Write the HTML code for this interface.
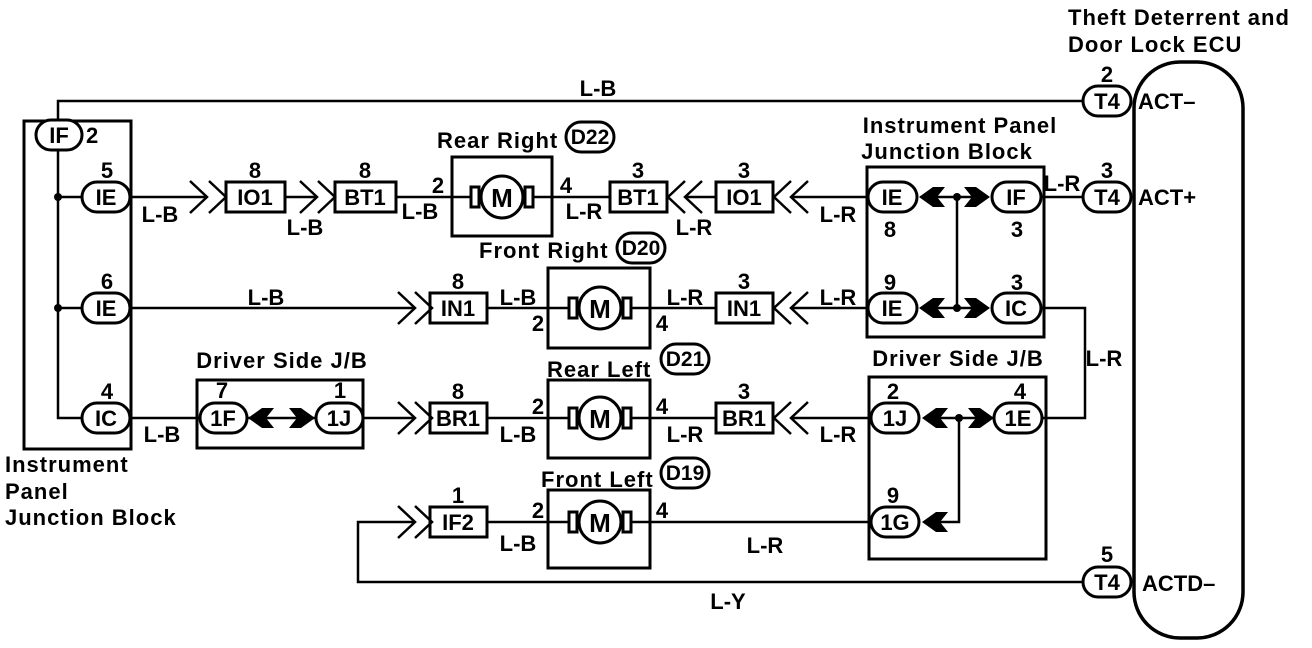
<!DOCTYPE html>
<html><head><meta charset="utf-8"><style>
html,body{margin:0;padding:0;background:#fff;}
svg{display:block;}
text{font-family:"Liberation Sans",sans-serif;font-weight:bold;font-size:22px;fill:#000;}
.c{text-anchor:middle;}
.t{letter-spacing:1px;}
.p{font-size:21px;}
</style></head><body>
<svg width="1312" height="648" viewBox="0 0 1312 648" xmlns="http://www.w3.org/2000/svg">
<g fill="none" stroke="#000" stroke-width="2.5">
<rect x="24" y="121" width="107" height="328" stroke-width="3"/>
<polyline points="58,135 58,101 1083,101"/>
<polyline points="58,150 58,418 82,418"/>
<line x1="58" y1="197" x2="82" y2="197"/>
<line x1="58" y1="308" x2="82" y2="308"/>
<line x1="130" y1="197" x2="205" y2="197"/>
<polyline points="190,181 207,197 190,213"/><polyline points="209,181 226,197 209,213"/>
<line x1="285" y1="197" x2="315" y2="197"/>
<polyline points="300,181 317,197 300,213"/><polyline points="318,181 335,197 318,213"/>
<line x1="396" y1="197" x2="610" y2="197"/>
<polyline points="685,181 668,197 685,213"/><polyline points="702,181 685,197 702,213"/>
<line x1="685" y1="197" x2="716" y2="197"/>
<polyline points="791,181 774,197 791,213"/><polyline points="808,181 791,197 808,213"/>
<line x1="791" y1="197" x2="868" y2="197"/>
<line x1="130" y1="308" x2="415" y2="308"/>
<polyline points="398,292 415,308 398,324"/><polyline points="415,292 432,308 415,324"/>
<line x1="487" y1="308" x2="716" y2="308"/>
<polyline points="791,292 774,308 791,324"/><polyline points="808,292 791,308 808,324"/>
<line x1="791" y1="308" x2="868" y2="308"/>
<line x1="130" y1="418" x2="200" y2="418"/>
<line x1="363" y1="418" x2="415" y2="418"/>
<polyline points="398,402 415,418 398,434"/><polyline points="415,402 432,418 415,434"/>
<line x1="487" y1="418" x2="716" y2="418"/>
<polyline points="791,402 774,418 791,434"/><polyline points="808,402 791,418 808,434"/>
<line x1="791" y1="418" x2="868" y2="418"/>
<polyline points="1083,582 358,582 358,522 415,522"/>
<polyline points="398,506 415,522 398,538"/><polyline points="415,506 432,522 415,538"/>
<line x1="487" y1="522" x2="868" y2="522"/>
<line x1="1041" y1="197" x2="1083" y2="197"/>
<polyline points="1041,308 1085,308 1085,418 1041,418"/>
<g stroke-width="3">
<rect x="226" y="182" width="59" height="30"/>
<rect x="335" y="182" width="61" height="30"/>
<rect x="610" y="182" width="57" height="30"/>
<rect x="716" y="182" width="57" height="30"/>
<rect x="430" y="293" width="57" height="30"/>
<rect x="716" y="293" width="57" height="30"/>
<rect x="430" y="403" width="57" height="30"/>
<rect x="716" y="403" width="57" height="30"/>
<rect x="430" y="507" width="57" height="30"/>
<rect x="452" y="157" width="100" height="79"/>
<rect x="548" y="268" width="102" height="80"/>
<rect x="548" y="380" width="102" height="78"/>
<rect x="548" y="490" width="102" height="78"/>
<rect x="197" y="380" width="166" height="68"/>
<rect x="867" y="167" width="177" height="170"/>
<rect x="869" y="377" width="177" height="182"/>
<rect x="1134" y="62" width="109" height="576" rx="46" ry="46" stroke-width="3.5"/>
</g>
<g stroke-width="3">
<circle cx="502" cy="197" r="21" fill="#fff"/><rect x="471" y="187" width="8" height="20" fill="#fff"/><rect x="525" y="187" width="8" height="20" fill="#fff"/>
<circle cx="600" cy="308" r="21" fill="#fff"/><rect x="569" y="298" width="8" height="20" fill="#fff"/><rect x="623" y="298" width="8" height="20" fill="#fff"/>
<circle cx="600" cy="418" r="21" fill="#fff"/><rect x="569" y="408" width="8" height="20" fill="#fff"/><rect x="623" y="408" width="8" height="20" fill="#fff"/>
<circle cx="600" cy="522" r="21" fill="#fff"/><rect x="569" y="512" width="8" height="20" fill="#fff"/><rect x="623" y="512" width="8" height="20" fill="#fff"/>
</g>
<line x1="937" y1="197" x2="975" y2="197"/><line x1="937" y1="308" x2="975" y2="308"/>
<line x1="957" y1="197" x2="957" y2="308"/>
<line x1="220" y1="418" x2="340" y2="418"/>
<line x1="940" y1="418" x2="1000" y2="418"/>
<polyline points="959,418 959,522 935,522"/>
<g stroke-width="3" fill="#fff">
<rect x="36" y="120" width="46" height="30" rx="15"/>
<rect x="82" y="182" width="48" height="30" rx="15"/>
<rect x="82" y="293" width="48" height="30" rx="15"/>
<rect x="82" y="403" width="48" height="30" rx="15"/>
<rect x="200" y="403" width="47" height="30" rx="15"/>
<rect x="316" y="403" width="47" height="30" rx="15"/>
<rect x="868" y="182" width="49" height="30" rx="15"/>
<rect x="992" y="182" width="49" height="30" rx="15"/>
<rect x="868" y="293" width="49" height="30" rx="15"/>
<rect x="992" y="293" width="49" height="30" rx="15"/>
<rect x="871" y="403" width="48" height="30" rx="15"/>
<rect x="994" y="403" width="48" height="30" rx="15"/>
<rect x="871" y="507" width="48" height="30" rx="15"/>
<rect x="1083" y="86" width="48" height="30" rx="15"/>
<rect x="1083" y="182" width="48" height="30" rx="15"/>
<rect x="1083" y="567" width="48" height="30" rx="15"/>
<rect x="566" y="122" width="48" height="30" rx="15"/>
<rect x="617" y="233" width="48" height="30" rx="15"/>
<rect x="661" y="344" width="48" height="30" rx="15"/>
<rect x="661" y="458" width="48" height="30" rx="15"/>
</g>
</g>
<g fill="#000">
<polygon points="919,197 933,187 945,187 937,197 945,207 933,207"/>
<polygon points="990,197 976,187 964,187 972,197 964,207 976,207"/>
<polygon points="919,308 933,298 945,298 937,308 945,318 933,318"/>
<polygon points="990,308 976,298 964,298 972,308 964,318 976,318"/>
<polygon points="922,418 936,408 948,408 940,418 948,428 936,428"/>
<polygon points="994,418 980,408 968,408 976,418 968,428 980,428"/>
<polygon points="922,522 936,512 948,512 940,522 948,532 936,532"/>
<polygon points="248,418 262,408 274,408 266,418 274,428 262,428"/>
<polygon points="315,418 301,408 289,408 297,418 289,428 301,428"/>
<circle cx="58" cy="197" r="4"/><circle cx="58" cy="308" r="4"/>
<circle cx="957" cy="197" r="4"/><circle cx="957" cy="308" r="4"/><circle cx="959" cy="418" r="4"/>
</g>
<text class="c" x="502" y="207" style="font-size:26px">M</text>
<text class="c" x="600" y="318" style="font-size:26px">M</text>
<text class="c" x="600" y="428" style="font-size:26px">M</text>
<text class="c" x="600" y="532" style="font-size:26px">M</text>
<text class="c" x="59" y="143">IF</text><text x="86" y="143">2</text>
<text class="c" x="106" y="205">IE</text><text class="c" x="106" y="316">IE</text><text class="c" x="106" y="426">IC</text>
<text class="c" x="223" y="426">1F</text><text class="c" x="339" y="426">1J</text>
<text class="c" x="892" y="205">IE</text><text class="c" x="1016" y="205">IF</text>
<text class="c" x="892" y="316">IE</text><text class="c" x="1016" y="316">IC</text>
<text class="c" x="895" y="426">1J</text><text class="c" x="1018" y="426">1E</text>
<text class="c" x="895" y="530">1G</text>
<text class="c" x="1107" y="109">T4</text><text class="c" x="1107" y="205">T4</text><text class="c" x="1107" y="590">T4</text>
<text class="c p" x="590" y="144">D22</text><text class="c p" x="641" y="255">D20</text>
<text class="c p" x="685" y="366">D21</text><text class="c p" x="685" y="480">D19</text>
<text class="c" x="255" y="205">IO1</text><text class="c" x="365" y="205">BT1</text>
<text class="c" x="638" y="205">BT1</text><text class="c" x="744" y="205">IO1</text>
<text class="c" x="458" y="316">IN1</text><text class="c" x="744" y="316">IN1</text>
<text class="c" x="458" y="426">BR1</text><text class="c" x="744" y="426">BR1</text>
<text class="c" x="458" y="530">IF2</text>
<text class="c" x="107" y="178">5</text><text class="c" x="107" y="289">6</text><text class="c" x="107" y="399">4</text>
<text class="c" x="255" y="178">8</text><text class="c" x="365" y="178">8</text>
<text class="c" x="638" y="178">3</text><text class="c" x="744" y="178">3</text>
<text class="c" x="458" y="289">8</text><text class="c" x="744" y="289">3</text>
<text class="c" x="458" y="399">8</text><text class="c" x="744" y="399">3</text>
<text class="c" x="458" y="503">1</text>
<text class="c" x="438" y="193">2</text><text class="c" x="566" y="193">4</text>
<text class="c" x="538" y="331">2</text><text class="c" x="662" y="331">4</text>
<text class="c" x="538" y="414">2</text><text class="c" x="662" y="414">4</text>
<text class="c" x="538" y="518">2</text><text class="c" x="662" y="518">4</text>
<text class="c" x="222" y="398">7</text><text class="c" x="340" y="398">1</text>
<text class="c" x="890" y="237">8</text><text class="c" x="1017" y="237">3</text>
<text class="c" x="890" y="290">9</text><text class="c" x="1017" y="290">3</text>
<text class="c" x="893" y="399">2</text><text class="c" x="1020" y="399">4</text>
<text class="c" x="893" y="503">9</text>
<text class="c" x="1107" y="82">2</text><text class="c" x="1107" y="178">3</text><text class="c" x="1107" y="562">5</text>
<text class="c" x="598" y="96">L-B</text>
<text class="c" x="160" y="222">L-B</text><text class="c" x="305" y="235">L-B</text><text class="c" x="420" y="219">L-B</text>
<text class="c" x="584" y="219">L-R</text><text class="c" x="694" y="235">L-R</text><text class="c" x="838" y="222">L-R</text>
<text class="c" x="1062" y="191">L-R</text>
<text class="c" x="266" y="305">L-B</text><text class="c" x="518" y="305">L-B</text>
<text class="c" x="685" y="305">L-R</text><text class="c" x="838" y="305">L-R</text>
<text class="c" x="1104" y="366">L-R</text>
<text class="c" x="162" y="442">L-B</text><text class="c" x="518" y="442">L-B</text>
<text class="c" x="685" y="442">L-R</text><text class="c" x="838" y="442">L-R</text>
<text class="c" x="518" y="551">L-B</text><text class="c" x="765" y="553">L-R</text>
<text class="c" x="728" y="609">L-Y</text>
<text class="t" x="437" y="148">Rear Right</text>
<text class="t" x="479" y="258">Front Right</text>
<text class="t" x="547" y="377">Rear Left</text>
<text class="t" x="541" y="487">Front Left</text>
<text class="c t" x="282" y="368">Driver Side J/B</text>
<text class="c t" x="958" y="366">Driver Side J/B</text>
<text class="c t" x="960" y="133">Instrument Panel</text>
<text class="c t" x="947" y="159">Junction Block</text>
<text class="t" x="5" y="472">Instrument</text>
<text class="t" x="5" y="499">Panel</text>
<text class="t" x="5" y="525">Junction Block</text>
<text class="t" x="1068" y="25">Theft Deterrent and</text>
<text class="t" x="1068" y="52">Door Lock ECU</text>
<text x="1138" y="109">ACT–</text>
<text x="1138" y="205">ACT+</text>
<text x="1142" y="591">ACTD–</text>
</svg>
</body></html>
